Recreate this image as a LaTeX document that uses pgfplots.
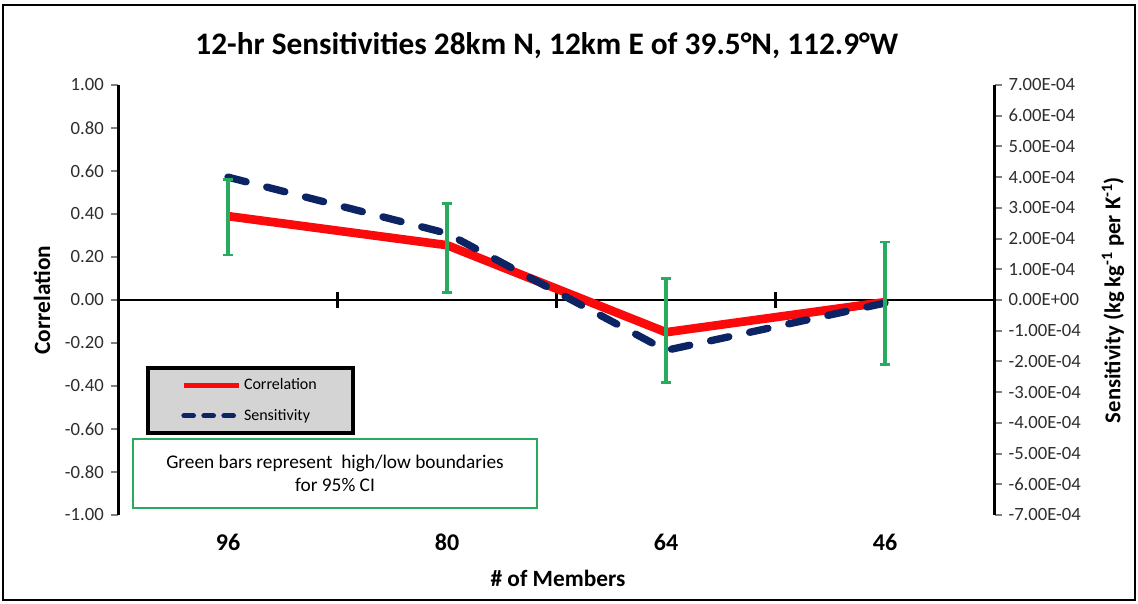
\documentclass[border=0pt]{standalone}
\usepackage{fontspec}
\setmainfont{Carlito}
\usepackage{pgfplots}
\pgfplotsset{compat=1.18}
\definecolor{cred}{RGB}{250,10,10}
\definecolor{cnavy}{RGB}{12,35,100}
\definecolor{cgreen}{RGB}{40,170,95}
\definecolor{cgray}{RGB}{212,212,212}
\definecolor{ctick}{RGB}{45,45,45}

\begin{document}
\begin{tikzpicture}
\pgfplotsset{
  base/.style={scale only axis, width=657pt, height=322.5pt,
    xmin=-0.5, xmax=3.5, clip=false},
}
% ---------- left axis: correlation ----------
\begin{axis}[base, name=main, ymin=-1, ymax=1,
  axis x line*=bottom, x axis line style={draw=none},
  xtick={0,1,2,3}, xticklabels={96,80,64,46},
  major x tick style={draw=none},
  xticklabel style={font=\fontsize{18}{20}\selectfont\bfseries, yshift=-5.5pt},
  axis y line*=left, y axis line style={line width=2pt},
  ytick={-1,-0.8,-0.6,-0.4,-0.2,0,0.2,0.4,0.6,0.8,1},
  yticklabels={-1.00,-0.80,-0.60,-0.40,-0.20,0.00,0.20,0.40,0.60,0.80,1.00},
  tick align=outside, major tick length=5.5pt,
  major y tick style={line width=1.5pt},
  yticklabel style={font=\fontsize{14}{16}\selectfont, color=ctick, xshift=-2pt},
  xlabel={\# of Members},
  xlabel style={font=\fontsize{17.5}{20}\selectfont\bfseries,
    at={(axis description cs:0.5017,-0.1465)}, anchor=center},
  ylabel={Correlation},
  ylabel style={font=\fontsize{17.5}{20}\selectfont\bfseries,
    at={(axis description cs:-0.0873,0.5)}, anchor=center},
  title={12-hr Sensitivities  28km N, 12km E of 39.5°N, 112.9°W},
  title style={font=\fontsize{23.5}{26}\selectfont\bfseries,
    at={(axis description cs:0.489,1.073)}, anchor=center},
]
\draw[black, line width=2pt] (axis cs:-0.5,0) -- (axis cs:3.5,0);
\draw[black, line width=2pt] ([yshift=-6pt]axis cs:0.5,0) -- ([yshift=6pt]axis cs:0.5,0);
\draw[black, line width=2pt] ([yshift=-6pt]axis cs:1.5,0) -- ([yshift=6pt]axis cs:1.5,0);
\draw[black, line width=2pt] ([yshift=-6pt]axis cs:2.5,0) -- ([yshift=6pt]axis cs:2.5,0);
\addplot[cred, line width=6.5pt, line join=round] coordinates {
  (0,0.39) (1,0.255) (2,-0.15) (3,-0.01)
};
\node[draw=cgreen, line width=2.2pt, fill=white, minimum width=303pt,
  minimum height=51.75pt, align=center,
  font=\fontsize{14.5}{17}\selectfont]
  at (axis cs:0.4886,-0.807)
  {Green bars represent\ \ high/low boundaries\\for 95\% CI};
\end{axis}

% ---------- right axis: sensitivity ----------
\begin{axis}[base, ymin=-7e-4, ymax=7e-4,
  axis x line=none, xtick=\empty, scaled y ticks=false,
  axis y line*=right, y axis line style={line width=2pt},
  ytick={-7e-4,-6e-4,-5e-4,-4e-4,-3e-4,-2e-4,-1e-4,0,1e-4,2e-4,3e-4,4e-4,5e-4,6e-4,7e-4},
  yticklabels={-7.00E-04,-6.00E-04,-5.00E-04,-4.00E-04,-3.00E-04,-2.00E-04,-1.00E-04,0.00E+00,1.00E-04,2.00E-04,3.00E-04,4.00E-04,5.00E-04,6.00E-04,7.00E-04},
  tick align=outside, major tick length=5.5pt,
  major y tick style={line width=1.5pt},
  yticklabel style={font=\fontsize{14}{16}\selectfont, color=ctick, xshift=1.5pt},
  ylabel={Sensitivity (kg kg\textsuperscript{-1} per K\textsuperscript{-1})},
  ylabel style={font=\fontsize{17}{20}\selectfont\bfseries,
    at={(axis description cs:1.1353,0.5)}, anchor=center},
  legend image code/.code={\draw[#1] (0pt,0pt) -- (41pt,0pt);},
  legend style={at={(axis description cs:0.0314,0.3465)}, anchor=north west,
    fill=cgray, draw=black, line width=3pt, inner xsep=25pt, inner ysep=6pt,
    row sep=9pt, font=\fontsize{12}{14}\selectfont},
  legend cell align=left,
]
\addlegendimage{cred, line width=4pt}
\addlegendentry{Correlation}
\addlegendimage{cnavy, line width=4pt, line cap=round, dash pattern=on 7pt off 8pt}
\addlegendentry{Sensitivity}
\addplot[cnavy, line width=5.5pt, line cap=round, line join=round,
  dash pattern=on 14pt off 16pt, forget plot] coordinates {
  (0,4.0e-4) (1,2.17e-4) (2,-1.64e-4) (3,-0.1e-4)
};
\end{axis}

% ---------- top axis: 95% CI error bars ----------
\begin{axis}[base, ymin=-1, ymax=1, hide axis]
\addplot[draw=none, mark=none,
  error bars/.cd, y dir=both, y explicit,
  error bar style={cgreen, line width=2.4pt},
  error mark options={cgreen, line width=2pt, mark size=4pt, rotate=90}]
  coordinates {
  (0,0.39)  += (0,0.17)  -= (0,0.18)
  (1,0.255) += (0,0.195) -= (0,0.22)
  (2,-0.15) += (0,0.25)  -= (0,0.235)
  (3,-0.01) += (0,0.28)  -= (0,0.29)
};
\end{axis}

% ---------- outer frame and bounding box ----------
\draw[black, line width=2pt]
  ([xshift=-86.6pt, yshift=-63.75pt]main.south west) rectangle
  ([xshift=105.4pt, yshift=60pt]main.north east);
\pgfresetboundingbox
\useasboundingbox ([xshift=-88.875pt, yshift=-66pt]main.south west) rectangle
  ([xshift=107.625pt, yshift=63.75pt]main.north east);
\end{tikzpicture}
\end{document}
